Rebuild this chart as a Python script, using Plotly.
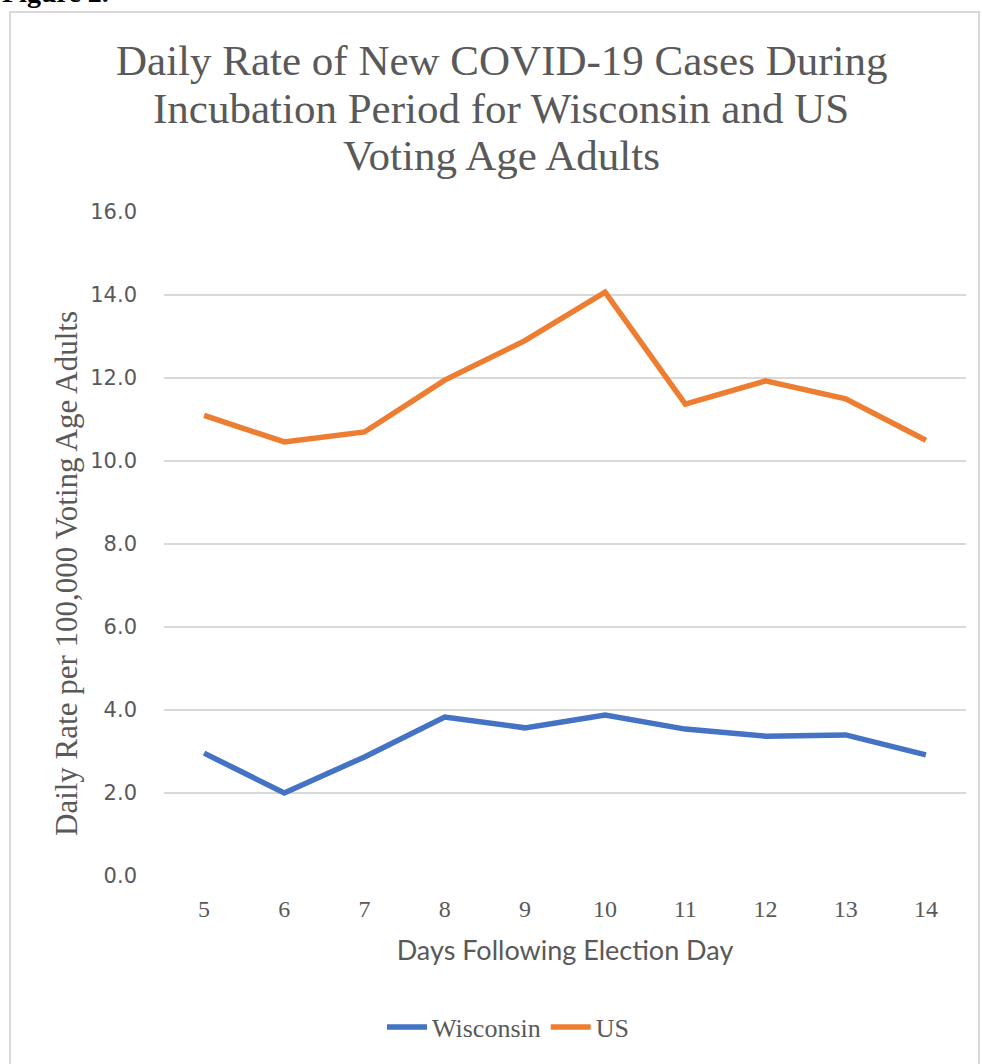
import plotly.graph_objects as go

# Days following election day (category axis)
days = ["5", "6", "7", "8", "9", "10", "11", "12", "13", "14"]

# Daily rate per 100,000 voting age adults
wisconsin = [2.96, 2.00, 2.87, 3.83, 3.57, 3.88, 3.54, 3.37, 3.40, 2.92]
us = [11.10, 10.46, 10.70, 11.95, 12.90, 14.07, 11.37, 11.93, 11.50, 10.50]

y_ticks = [0, 2, 4, 6, 8, 10, 12, 14, 16]
y_tick_text = ["%.1f" % v for v in y_ticks]

title_lines = ["Daily Rate of New COVID-19 Cases During",
               "Incubation Period for Wisconsin and US",
               "Voting Age Adults"]

W, H = 982, 1064
L, R, T, B = 164, 16, 212, 188
pw, ph = W - L - R, H - T - B


def px(x):
    return (x - L) / pw


def py(y):
    return (H - B - y) / ph


fig = go.Figure()
fig.add_trace(go.Scatter(x=days, y=wisconsin, mode="lines", name="Wisconsin",
                         line=dict(color="#4472C4", width=5.5)))
fig.add_trace(go.Scatter(x=days, y=us, mode="lines", name="US",
                         line=dict(color="#ED7D31", width=5.5)))

gray = "#595959"
fig.update_layout(
    width=W, height=H,
    margin=dict(l=L, r=R, t=T, b=B),
    paper_bgcolor="white", plot_bgcolor="white",
    showlegend=True,
    legend=dict(orientation="h", x=px(508), xanchor="center",
                y=py(1027), yanchor="middle",
                font=dict(family="Liberation Serif", size=26, color=gray),
                itemwidth=40),
    xaxis=dict(type="category", range=[-0.5, 9.5],
               showgrid=False, zeroline=False, showline=False,
               ticks="", ticklabelstandoff=16,
               tickfont=dict(family="Liberation Serif", size=24, color=gray),
               title=dict(text="Days Following Election Day", standoff=20,
                          font=dict(family="Liberation Sans Narrow, Lato",
                                    size=27, color=gray))),
    yaxis=dict(range=[0, 16], tickvals=y_ticks, ticktext=y_tick_text,
               showgrid=True, gridcolor="#D9D9D9", gridwidth=1.5,
               zeroline=False, showline=False, ticks="",
               ticklabelstandoff=26,
               tickfont=dict(family="DejaVu Sans", size=21, color=gray)),
)

# y axis title, placed a little below the plot centre as in the original
fig.add_annotation(
    text="Daily Rate per 100,000 Voting Age Adults", textangle=-90,
    xref="paper", yref="paper", x=px(66), y=py(574),
    xanchor="center", yanchor="middle", showarrow=False,
    font=dict(family="Liberation Serif", size=31, color=gray),
)

for line, yc in zip(title_lines, [60, 108, 155]):
    fig.add_annotation(
        text=line, xref="paper", yref="paper", x=px(501), y=py(yc),
        xanchor="center", yanchor="middle", showarrow=False,
        font=dict(family="Liberation Serif", size=43, color=gray),
    )

fig.add_annotation(
    text="<b>Figure 2.</b>", xref="paper", yref="paper",
    x=px(0), y=py(-8), xanchor="left", yanchor="middle", showarrow=False,
    font=dict(family="Liberation Serif", size=28, color="black"),
)

# chart frame
fig.add_shape(type="rect", xref="paper", yref="paper",
              x0=px(10), x1=px(979), y0=py(1080), y1=py(12),
              line=dict(color="#D9D9D9", width=2), layer="below")

fig.write_html("out.html", config={"displayModeBar": False},
               post_script="document.body.style.margin='0';")
